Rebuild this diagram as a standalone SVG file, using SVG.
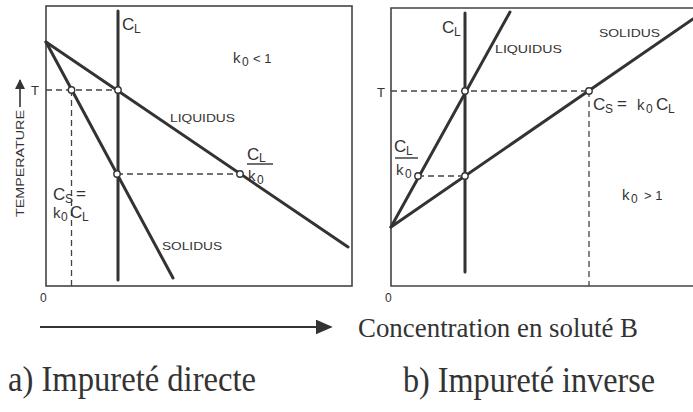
<svg xmlns="http://www.w3.org/2000/svg" width="693" height="412" viewBox="0 0 693 412">
<style>
.ln{stroke:#333;stroke-width:3;fill:none;stroke-linecap:round}
.fr{stroke:#444;stroke-width:1.6;fill:none}
.ds{stroke:#444;stroke-width:1.3;stroke-dasharray:6 4;fill:none}
.pt{fill:#fff;stroke:#333;stroke-width:1.4}
.lb{font-family:"Liberation Sans",Arial,sans-serif;fill:#333}
.sf{font-family:"Liberation Serif","Times New Roman",serif;fill:#333}
.big{font-size:17px}
.sub{font-size:12px}
.cap{font-size:11px}
</style>
<defs>
<marker id="ah" viewBox="0 0 10 10" refX="9" refY="5" markerWidth="10" markerHeight="10" markerUnits="userSpaceOnUse" orient="auto">
<path d="M0,0 L10,5 L0,10 z" fill="#333"/>
</marker>
<marker id="ah2" viewBox="0 0 10 10" refX="9" refY="5" markerWidth="17" markerHeight="15" markerUnits="userSpaceOnUse" orient="auto" preserveAspectRatio="none">
<path d="M0,0 L10,5 L0,10 z" fill="#333"/>
</marker>
</defs>

<g id="panel-a">
<rect class="fr" x="46" y="6" width="306" height="280"/>
<g id="connectors-a">
<path class="ds" d="M46,90 H118"/>
<path class="ds" d="M71.5,90 V286"/>
<path class="ds" d="M117,174 H240"/>
<path class="ln" d="M118,11 V280"/>
<path class="ln" d="M46,42 L348,247"/>
<path class="ln" d="M46,42 L173,278"/>
</g>
<g id="points-a">
<circle class="pt" cx="71.5" cy="90" r="3.2"/>
<circle class="pt" cx="118" cy="90" r="3.2"/>
<circle class="pt" cx="117" cy="174" r="3.2"/>
<circle class="pt" cx="240" cy="174" r="3.2"/>
</g>
<g id="labels-a">
<text class="lb big" x="122" y="30">C</text><text class="lb sub" x="134" y="33">L</text>
<text class="lb" x="233" y="63" font-size="15">k</text><text class="lb sub" x="242" y="66">0</text><text class="lb" x="253" y="63" font-size="13">&lt; 1</text>
<text class="lb" x="31" y="95" font-size="13">T</text>
<text class="lb" x="40" y="302" font-size="12">0</text>
<text class="lb cap" x="170" y="122" textLength="65" lengthAdjust="spacingAndGlyphs">LIQUIDUS</text>
<text class="lb cap" x="162" y="250" textLength="60" lengthAdjust="spacingAndGlyphs">SOLIDUS</text>
<text class="lb big" x="247" y="160">C</text><text class="lb sub" x="259" y="162">L</text>
<path d="M247,164 H273" stroke="#333" stroke-width="1.4"/>
<text class="lb" x="248" y="181" font-size="15">k</text><text class="lb sub" x="257" y="184">0</text>
<text class="lb big" x="53" y="200">C</text><text class="lb sub" x="65" y="203">S</text><text class="lb" x="76" y="199" font-size="17">=</text>
<text class="lb" x="53" y="218" font-size="15">k</text><text class="lb sub" x="61" y="221">0</text><text class="lb big" x="70" y="218">C</text><text class="lb sub" x="82" y="221">L</text>
</g>
<g id="temp-axis">
<path d="M20,107 V80" stroke="#333" stroke-width="1.6" marker-end="url(#ah)"/>
<text class="lb cap" transform="translate(24,217) rotate(-90)" x="0" y="0" textLength="107" lengthAdjust="spacingAndGlyphs">TEMPERATURE</text>
</g>
</g>

<g id="panel-b">
<path class="fr" d="M693,8 H391 V286 H693"/>
<g id="connectors-b">
<path class="ds" d="M391,91 H589"/>
<path class="ds" d="M589,91 V286"/>
<path class="ds" d="M418,176 H465"/>
<path class="ln" d="M465,13 V272"/>
<path class="ln" d="M391,227 L510,12"/>
<path class="ln" d="M391,227 L693,19"/>
</g>
<g id="points-b">
<circle class="pt" cx="465" cy="91" r="3.2"/>
<circle class="pt" cx="589" cy="91" r="3.2"/>
<circle class="pt" cx="418" cy="176" r="3.2"/>
<circle class="pt" cx="465" cy="176" r="3.2"/>
</g>
<g id="labels-b">
<text class="lb big" x="442" y="33">C</text><text class="lb sub" x="454" y="36">L</text>
<text class="lb cap" x="495" y="53" textLength="67" lengthAdjust="spacingAndGlyphs">LIQUIDUS</text>
<text class="lb cap" x="599" y="37" textLength="61" lengthAdjust="spacingAndGlyphs">SOLIDUS</text>
<text class="lb" x="377" y="97" font-size="13">T</text>
<text class="lb" x="385" y="302" font-size="12">0</text>
<text class="lb big" x="593" y="110">C</text><text class="lb sub" x="605" y="113">S</text><text class="lb" x="617" y="109" font-size="17">=</text>
<text class="lb" x="637" y="110" font-size="15">k</text><text class="lb sub" x="646" y="113">0</text><text class="lb big" x="656" y="110">C</text><text class="lb sub" x="668" y="113">L</text>
<text class="lb big" x="394" y="152">C</text><text class="lb sub" x="406" y="155">L</text>
<path d="M395,158 H418" stroke="#333" stroke-width="1.4"/>
<text class="lb" x="396" y="175" font-size="15">k</text><text class="lb sub" x="405" y="178">0</text>
<text class="lb" x="622" y="200" font-size="15">k</text><text class="lb sub" x="631" y="203">0</text><text class="lb" x="644" y="200" font-size="13">&gt; 1</text>
</g>
</g>

<g id="bottom">
<path d="M40,327 H331" stroke="#333" stroke-width="2" marker-end="url(#ah2)"/>
<text class="sf" x="358" y="337" font-size="28" textLength="280" lengthAdjust="spacingAndGlyphs">Concentration en soluté B</text>
<text class="sf" x="8" y="391" font-size="35" textLength="248" lengthAdjust="spacingAndGlyphs">a) Impureté directe</text>
<text class="sf" x="403" y="392" font-size="35" textLength="252" lengthAdjust="spacingAndGlyphs">b) Impureté inverse</text>
</g>
</svg>
